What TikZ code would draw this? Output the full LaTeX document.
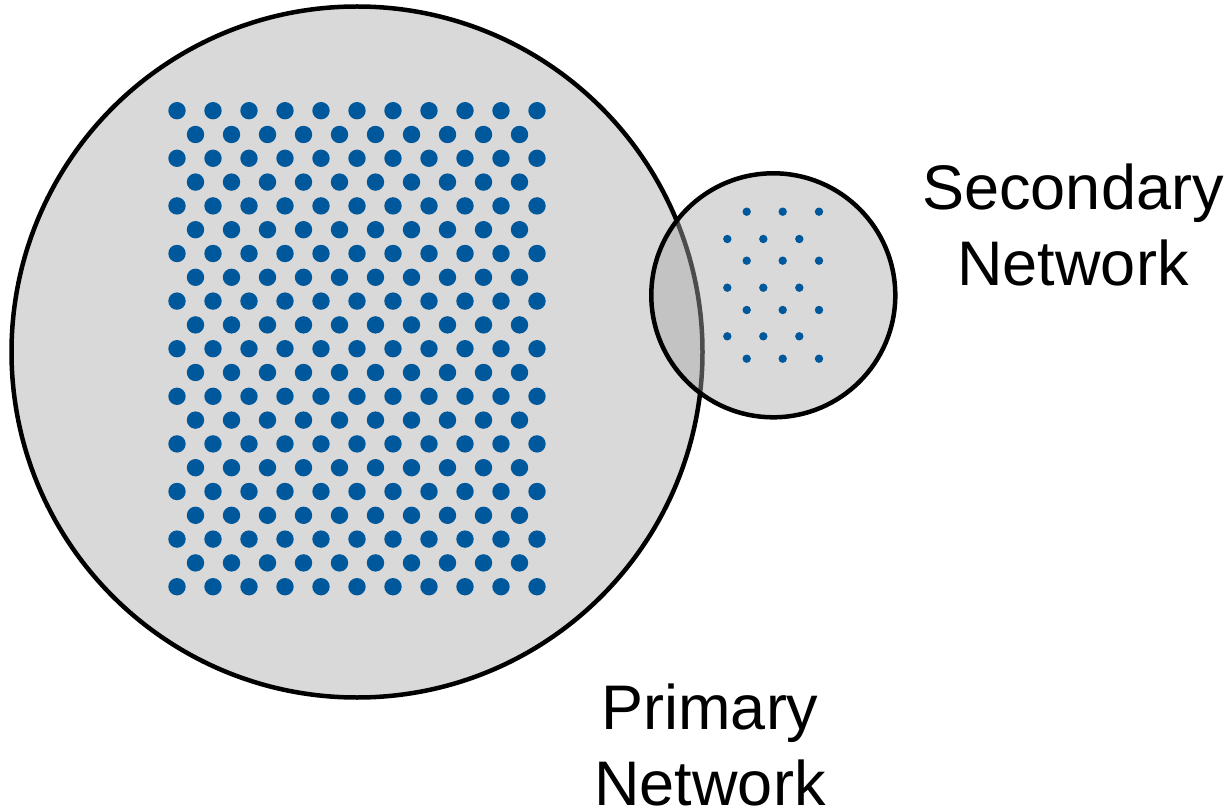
\documentclass[tikz,border=0pt]{standalone}
\usepackage{fontspec}
\setmainfont{Liberation Sans}
\definecolor{netgray}{RGB}{217,217,217}
\definecolor{overgray}{RGB}{170,170,170}
\definecolor{dotblue}{RGB}{0,88,156}
\tikzset{
  ring/.style={draw=black, line width=4.5pt},
  bigdot/.style={fill=dotblue},
  label/.style={inner sep=0pt, align=center, font=\fontsize{63}{76}\selectfont},
}
\begin{document}
\begin{tikzpicture}[x=1pt, y=-1pt]
\useasboundingbox (0,0) rectangle (1229,810);
% primary network
\draw[ring, fill=netgray] (357,352) circle[radius=345.5];
\foreach \k in {0,...,10}{
  \foreach \j in {0,...,10}{
    \fill[bigdot] ({177+36*\j},{110.7+47.6*\k}) circle[radius=8.7];
  }
}
\foreach \k in {0,...,9}{
  \foreach \j in {0,...,9}{
    \fill[bigdot] ({195.5+36*\j},{134.5+47.6*\k}) circle[radius=8.7];
  }
}
% secondary network
\draw[ring, fill=overgray, fill opacity=0.45] (773.3,295.3) circle[radius=122];
\foreach \y in {211.7,260.7,310,358.7}{
  \foreach \x in {746.7,782.7,819}{
    \fill[bigdot] (\x,\y) circle[radius=4.2];
  }
}
\foreach \y in {239,287.7,336.3}{
  \foreach \x in {727.3,763.3,799.3}{
    \fill[bigdot] (\x,\y) circle[radius=4.2];
  }
}
\node[label, anchor=base] (sec) at (1073,286) {Secondary\\Network};
\node[label, anchor=base] (pri) at (710,805) {Primary\\Network};
\end{tikzpicture}
\end{document}
